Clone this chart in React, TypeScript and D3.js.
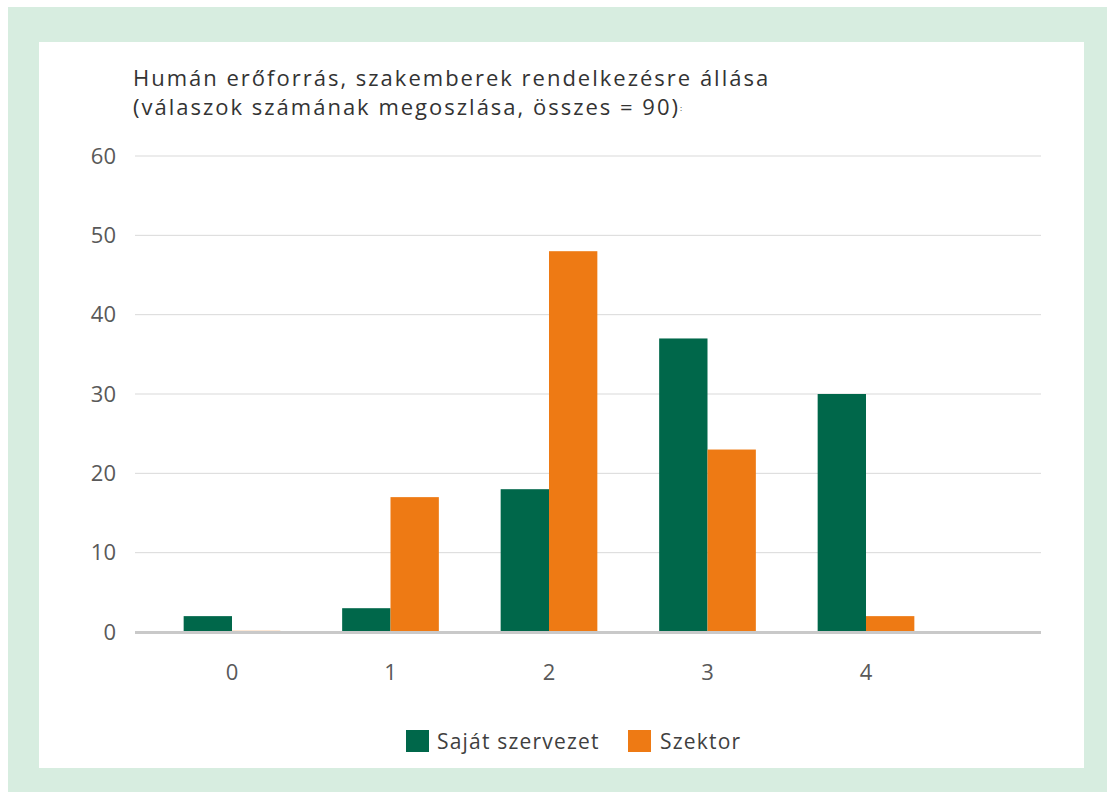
import React from 'react'
import * as d3 from 'd3'

const categories = ['0', '1', '2', '3', '4']
const seriesNames = ['Saját szervezet', 'Szektor']
const sajatValues = [2, 3, 18, 37, 30]
const szektorValues = [0, 17, 48, 23, 2]
const yTicks = [0, 10, 20, 30, 40, 50, 60]
const colors = ['#00674a', '#ee7a14']

const W = 1107
const H = 792
const fontFam = "'Open Sans', 'Noto Sans', sans-serif"

const App = () => {
    const plotLeft = 135
    const plotRight = 1041

    const yScale = d3.scaleLinear().domain([0, 60]).range([632, 156])

    const xScale = d3.scaleBand()
        .domain(categories)
        .range([152.75, 945.25])
        .paddingInner(0.39)
        .paddingOuter(0.195)

    const xSub = d3.scaleBand()
        .domain(seriesNames)
        .range([0, xScale.bandwidth()])

    const seriesData = [sajatValues, szektorValues]

    return (
        <div style={{ position: 'absolute', left: 0, top: 0 }}>
            <svg width={W} height={H} style={{ display: 'block' }}>
                <rect x={8} y={7} width={W - 8} height={H - 7} fill="#d7ede0" />
                <rect x={39} y={42} width={1045} height={726} fill="#ffffff" />

                <text x={133} y={86} fontFamily={fontFam} fontSize={22} letterSpacing={2} fill="#333333">
                    Humán erőforrás, szakemberek rendelkezésre állása
                </text>
                <text x={133} y={115} fontFamily={fontFam} fontSize={22} letterSpacing={2} fill="#333333">
                    (válaszok számának megoszlása, összes = 90)
                    <tspan fontSize={8} dy={-4} letterSpacing={0}>:</tspan>
                </text>

                {yTicks.map(t => (
                    <g key={t}>
                        {t !== 0 && (
                            <line x1={plotLeft} x2={plotRight} y1={yScale(t)} y2={yScale(t)}
                                  stroke="#d9d9d9" strokeWidth={1} />
                        )}
                        <text x={116} y={yScale(t)} dy="0.35em" textAnchor="end"
                              fontFamily={fontFam} fontSize={22} fill="#595959">{t}</text>
                    </g>
                ))}

                {categories.map((c, i) => (
                    <g key={c} transform={`translate(${xScale(c)},0)`}>
                        {seriesNames.map((s, j) => {
                            const v = seriesData[j][i]
                            const h = yScale(0) - yScale(v)
                            return (
                                <rect key={s}
                                      x={xSub(s)}
                                      y={yScale(v) - (v === 0 ? 1.5 : 0)}
                                      width={xSub.bandwidth()}
                                      height={v === 0 ? 1.5 : h}
                                      fill={colors[j]}
                                      opacity={v === 0 ? 0.35 : 1} />
                            )
                        })}
                    </g>
                ))}

                <line x1={plotLeft} x2={plotRight} y1={yScale(0) + 0.5} y2={yScale(0) + 0.5}
                      stroke="#c9c9c9" strokeWidth={3} />

                {categories.map(c => (
                    <text key={c} x={(xScale(c) as number) + xScale.bandwidth() / 2} y={680}
                          textAnchor="middle" fontFamily={fontFam} fontSize={22} fill="#595959">{c}</text>
                ))}

                <g>
                    <rect x={406} y={730} width={23} height={22} fill={colors[0]} />
                    <text x={437} y={749} fontFamily={fontFam} fontSize={21} letterSpacing={1.2} fill="#404040">{seriesNames[0]}</text>
                    <rect x={628} y={730} width={23} height={22} fill={colors[1]} />
                    <text x={660} y={749} fontFamily={fontFam} fontSize={21} letterSpacing={1.2} fill="#404040">{seriesNames[1]}</text>
                </g>
            </svg>
        </div>
    )
}

export default App
